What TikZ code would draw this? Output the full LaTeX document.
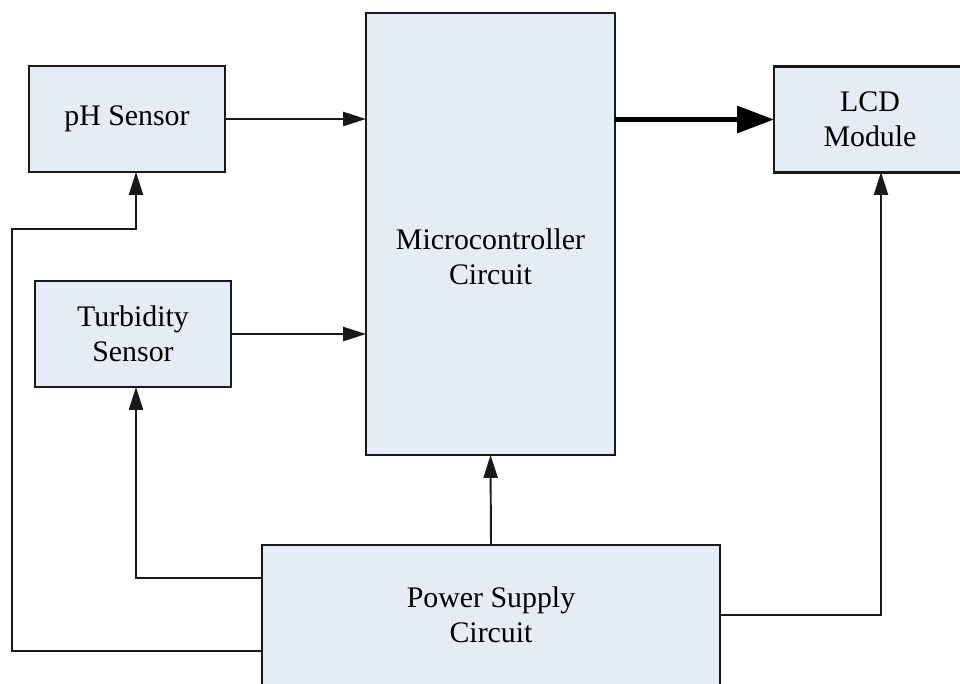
\documentclass[tikz,border=0pt]{standalone}
\usepackage{fontspec}
\setmainfont{Liberation Serif}
\usepackage{tikz}
\usetikzlibrary{arrows.meta}
\definecolor{boxblue}{RGB}{230,236,246}

\begin{document}
\begin{tikzpicture}[x=0.02cm,y=-0.02cm,
  block/.style={draw=black!90,fill=boxblue,line width=1.3pt,inner sep=0pt,outer sep=0pt,align=center,font=\fontsize{17}{20}\selectfont},
  wire/.style={line width=1.1pt,draw=black!90},
  arr/.style={wire,-{Triangle[length=13pt,width=8pt]}},
  bigarr/.style={line width=2.8pt,-{Triangle[length=21pt,width=15pt]}}]
\path[clip] (0,0) rectangle (960,683);
  \node[block,minimum width=3.92cm,minimum height=2.12cm] (ph) at (127,119) {pH Sensor};
  \node[block,minimum width=3.92cm,minimum height=2.12cm] (turb) at (133,334) {Turbidity\\Sensor};
  \node[block,minimum width=4.98cm,minimum height=8.84cm,
    label={[align=center,font=\fontsize{17}{20}\selectfont,yshift=-0.46cm]center:{Microcontroller\\Circuit}}] (micro) at (490.5,234) {};
  \node[block,minimum width=3.84cm,minimum height=2.12cm] (lcd) at (870,119.5) {LCD\\Module};
  \node[block,minimum width=9.16cm,minimum height=2.8cm] (power) at (491,615) {Power Supply\\Circuit};
  % power lines
  \coordinate (phin) at (136,172);
  \coordinate (lcdin) at (881,172);
  \draw[arr] (power.north) -- (micro.south);
  \draw[arr] (power.east) -| (lcdin);
  \draw[arr] ([yshift=0.74cm]power.west) -| ([xshift=0.06cm]turb.south);
  \draw[arr] ([yshift=-0.72cm]power.west) -- (12,651) -- (12,229) -| (phin);
  % signal lines
  \draw[arr] (ph.east) -- (ph.east -| micro.west);
  \draw[arr] (turb.east) -- (turb.east -| micro.west);
  \draw[bigarr] (lcd.west -| micro.east) -- (lcd.west);
\end{tikzpicture}
\end{document}
